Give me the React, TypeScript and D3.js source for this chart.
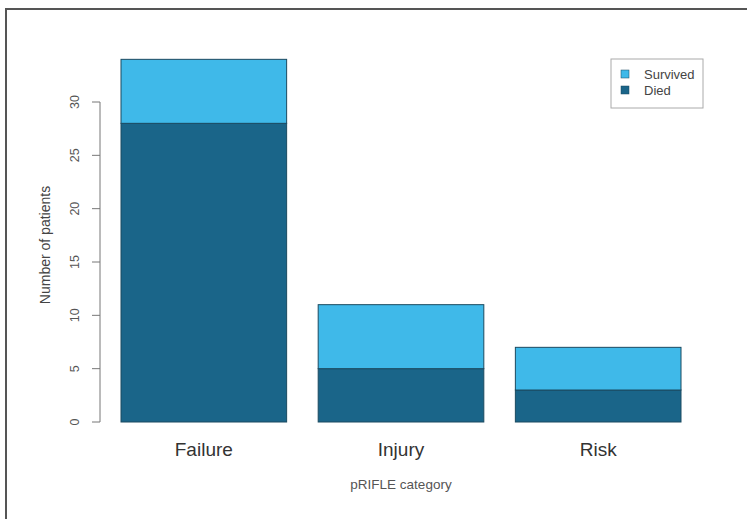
import React from "react";
import * as d3 from "d3";

const categories = ["Failure", "Injury", "Risk"];
const died = [28, 5, 3];
const survived = [6, 6, 4];
const yTicks = [0, 5, 10, 15, 20, 25, 30];
const seriesNames = ["Survived", "Died"];
const seriesColors = ["#3fb9e9", "#1a6589"];

export default function App() {
  const W = 747, H = 519;
  const x = d3.scaleBand<string>().domain(categories).range([121, 681]).paddingInner(0.16).paddingOuter(0);
  const y = d3.scaleLinear().domain([0, 30]).range([422, 102]);
  const font = "Liberation Sans, Arial, sans-serif";
  const axisX = 100;
  return (
    <svg width={W} height={H} style={{ position: "absolute", left: 0, top: 0, background: "#fff" }} fontFamily={font}>
      <rect x={0} y={0} width={W} height={H} fill="#fff" />
      {/* outer frame */}
      <path d={`M6,${H} L6,9 L${W},9`} fill="none" stroke="#555" strokeWidth={2} />
      {/* bars */}
      {categories.map((c, i) => {
        const x0 = x(c)!;
        const bw = x.bandwidth();
        const total = died[i] + survived[i];
        return (
          <g key={c}>
            <rect x={x0} y={y(died[i])} width={bw} height={y(0) - y(died[i])} fill={seriesColors[1]} stroke="#1b4a60" strokeWidth={1} />
            <rect x={x0} y={y(total)} width={bw} height={y(died[i]) - y(total)} fill={seriesColors[0]} stroke="#1b4a60" strokeWidth={1} />
            <text x={x0 + bw / 2} y={456} textAnchor="middle" fontSize={19} fill="#333">{c}</text>
          </g>
        );
      })}
      {/* y axis */}
      <line x1={axisX} x2={axisX} y1={y(0)} y2={y(30)} stroke="#777" strokeWidth={1} />
      {yTicks.map(t => (
        <g key={t}>
          <line x1={axisX - 8} x2={axisX} y1={y(t)} y2={y(t)} stroke="#777" strokeWidth={1} />
          <text transform={`translate(79,${y(t)}) rotate(-90)`} textAnchor="middle" fontSize={12.5} fill="#555">{t}</text>
        </g>
      ))}
      <text transform={`translate(50,245) rotate(-90)`} textAnchor="middle" fontSize={14} fill="#444">Number of patients</text>
      <text x={401} y={489} textAnchor="middle" fontSize={13.5} fill="#555">pRIFLE category</text>
      {/* legend */}
      <rect x={611} y={59} width={92} height={49} fill="#fff" stroke="#aaa" strokeWidth={1} />
      {seriesNames.map((s, i) => (
        <g key={s}>
          <rect x={621} y={70 + i * 16} width={8} height={8} fill={seriesColors[i]} stroke="#1b4a60" strokeWidth={0.5} />
          <text x={644} y={79 + i * 16} fontSize={13} fill="#444">{s}</text>
        </g>
      ))}
    </svg>
  );
}
